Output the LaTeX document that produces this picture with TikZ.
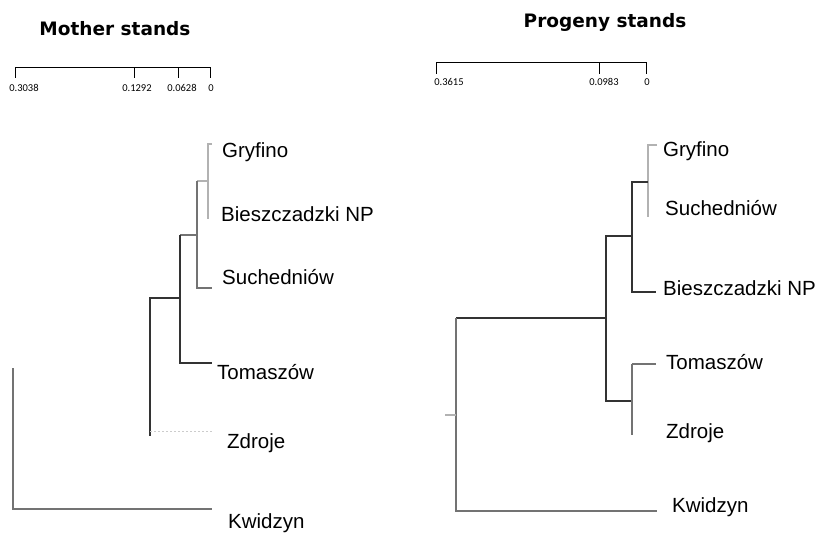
\documentclass[tikz,border=0pt]{standalone}
\usepackage{fontspec}
\setmainfont{Liberation Sans}
\newfontfamily\calfont{Carlito}
\newfontfamily\titlefont{DejaVu Sans}
\begin{document}
\begin{tikzpicture}[x=1pt,y=-1pt,
  leaf/.style={anchor=west,inner sep=0pt,font=\fontsize{20.5}{24}\selectfont},
  scalelab/.style={anchor=north,inner sep=0pt,font=\calfont\fontsize{10.5}{12}\selectfont},
  ttl/.style={inner sep=0pt,font=\titlefont\bfseries\fontsize{18.5}{22}\selectfont},
  dark/.style={draw=black!80,line width=1.3pt},
  mid/.style={draw=black!55,line width=1.1pt},
  light/.style={draw=black!30,line width=1.1pt},
  dotl/.style={draw=black!20,line width=1pt,dash pattern=on 1.5pt off 2.5pt},
  bar/.style={draw=black,line width=1pt}]
\useasboundingbox (0,0) rectangle (831,535);
% titles
\node[ttl] (t1) at (115,29) {Mother stands};
\node[ttl] (t2) at (605,22) {Progeny stands};
% left scale bar
\coordinate (sa) at (15,68);
\coordinate (sb) at (134,68);
\coordinate (sc) at (178,68);
\coordinate (sd) at (210,68);
\draw[bar] (15,78) -- (sa) -- (sd) -- (210,78);
\draw[bar] (sb) -- (134,78);
\draw[bar] (sc) -- (178,78);
\node[scalelab] (la) at (24,84) {0.3038};
\node[scalelab] (lb) at (137,84) {0.1292};
\node[scalelab] (lc) at (182,84) {0.0628};
\node[scalelab] (ld) at (211,84) {0};
% right scale bar
\coordinate (ra) at (436,63);
\coordinate (rb) at (599,63);
\coordinate (rc) at (646,63);
\draw[bar] (436,74) -- (ra) -- (rc) -- (646,74);
\draw[bar] (rb) -- (599,74);
\node[scalelab] (ma) at (449,78) {0.3615};
\node[scalelab] (mb) at (604,78) {0.0983};
\node[scalelab] (mc) at (647,78) {0};
% left labels
\node[leaf] (Lg) at (222,152) {Gryfino};
\node[leaf] (Lb) at (221,214) {Bieszczadzki NP};
\node[leaf] (Ls) at (222,277) {Suchedniów};
\node[leaf] (Lt) at (217,372) {Tomaszów};
\node[leaf] (Lz) at (227,443) {Zdroje};
\node[leaf] (Lk) at (228,523) {Kwidzyn};
% left tree
\draw[light] (212,144) -- (208,144) -- (208,219);
\draw[light] (208,181) -- (197,181);
\draw[mid] (197,181) -- (197,288) -- (212,288);
\draw[mid] (197,235) -- (180,235);
\draw[dark] (180,235) -- (180,363) -- (212,363);
\draw[dark] (180,298) -- (150,298) -- (150,436);
\draw[dotl] (150,431) -- (213,431);
\draw[mid] (13,368) -- (13,509) -- (212,509);
% right labels
\node[leaf] (Rg) at (663,151) {Gryfino};
\node[leaf] (Rs) at (665,208) {Suchedniów};
\node[leaf] (Rb) at (663,288) {Bieszczadzki NP};
\node[leaf] (Rt) at (666,362) {Tomaszów};
\node[leaf] (Rz) at (666,433) {Zdroje};
\node[leaf] (Rk) at (672,507) {Kwidzyn};
% right tree
\draw[light] (657,145) -- (648,145) -- (648,217);
\draw[dark] (648,182) -- (632,182) -- (632,292) -- (656,292);
\draw[dark] (632,236) -- (606,236) -- (606,401) -- (632,401);
\draw[mid] (632,364) -- (656,364);
\draw[mid] (632,364) -- (632,435);
\draw[dark] (606,318) -- (456,318);
\draw[mid] (456,318) -- (456,511) -- (657,511);
\draw[light] (445,415) -- (456,415);
\end{tikzpicture}
\end{document}
